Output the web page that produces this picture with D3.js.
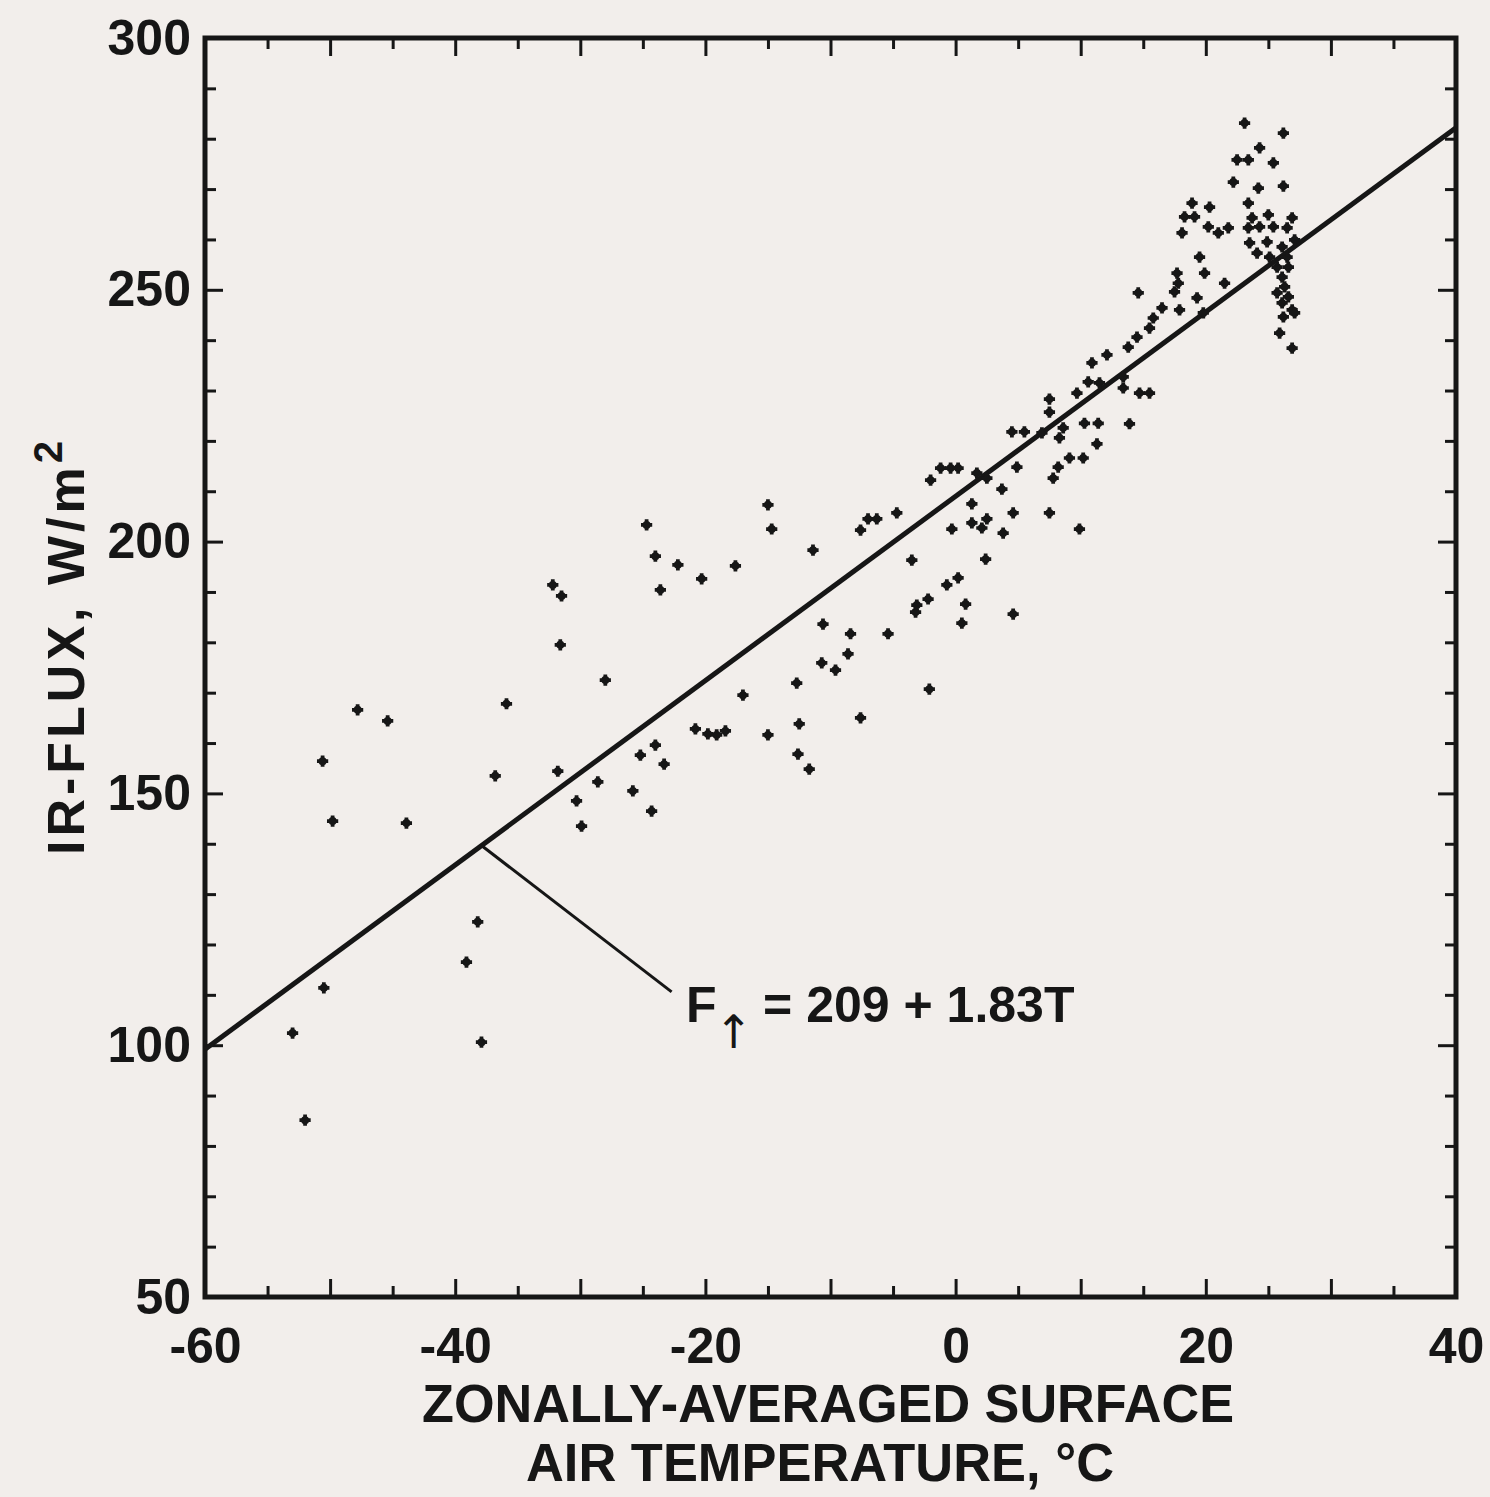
<!DOCTYPE html>
<html>
<head>
<meta charset="utf-8">
<script src="https://cdn.jsdelivr.net/npm/d3@7"></script>
<style>
  html, body { margin: 0; padding: 0; background: #f2eeeb; }
  svg { display: block; }
</style>
</head>
<body>
<div id="chart"></div>
<script>
// zonally-averaged surface air temperature (C) and IR flux (W/m2)
const tempC = [
  -32.2, -31.5, -31.6, -47.8, -45.4, -35.9, -50.6, -36.8, -31.8, -30.3,
  -29.9, -28.6, -49.8, -43.9, -38.2, -39.1, -50.5, -53.0, -37.9, -52.0,
  -25.8, -24.3, -25.2, -24.0, -23.3,
  -15.0, -24.7, -14.7, -7.0, -6.3, -4.7, -7.6, -11.4, -24.0, -22.2,
  -17.6, -20.3, -23.6, -28.0, -20.8, -19.8, -19.1, -18.4, -17.0, -15.0,
  -12.7, -12.5, -12.6, -11.7, -10.6, -8.4, -8.6, -10.7, -9.6, -7.6, -5.4,
  14.5, 13.8, 12.1, 10.9, 13.4, 10.6, 11.5, 13.4, 14.7, 15.5,
  7.5, 9.7, 10.3, 11.4, 13.9, 8.6, 8.3, 11.3, 7.5, 4.5,
  5.5, 6.9, 9.1, 10.2, 4.9, 8.2, 7.8, -1.2, -0.4, 0.2,
  1.7, 2.5, -2.0, 3.7, 1.3, 4.6, 7.5, 9.9, -0.3, 1.3,
  2.1, 2.5, 3.8, -3.5, 2.4, -0.7, 0.2, -2.2, 0.8, -3.2,
  -3.1, 4.6, 0.5, -2.1,
  23.1, 26.2, 24.3, 22.5, 23.4, 25.4, 22.2, 24.2, 26.2, 18.9,
  20.3, 23.4, 18.3, 19.1, 20.2, 21.8, 21.0, 18.1,
  23.7, 25.0, 26.9, 23.4, 24.3, 25.4, 26.5, 23.5, 24.9, 26.1,
  27.1, 24.1, 26.5, 25.1,
  25.7, 26.6, 26.1, 26.3, 25.7, 26.6, 26.1, 26.9, 26.2, 27.1, 25.9, 26.9,
  19.5, 19.9, 17.7, 17.8, 17.5, 19.3, 14.6, 16.5, 15.8, 17.9, 15.5, 19.8, 21.5
];
const irFlux = [
  191.4, 189.2, 179.5, 166.6, 164.4, 167.8, 156.4, 153.5, 154.4, 148.5,
  143.5, 152.3, 144.5, 144.1, 124.5, 116.5, 111.4, 102.4, 100.6, 85.1,
  150.5, 146.5, 157.6, 159.6, 155.8,
  207.3, 203.3, 202.5, 204.5, 204.5, 205.7, 202.3, 198.3, 197.1, 195.4,
  195.2, 192.6, 190.4, 172.5, 162.8, 161.8, 161.6, 162.4, 169.5, 161.6,
  171.9, 163.8, 157.8, 154.8, 183.6, 181.7, 177.7, 175.9, 174.5, 165.0, 181.7,
  240.6, 238.6, 237.1, 235.5, 232.7, 231.7, 231.5, 230.5, 229.5, 229.5,
  228.3, 229.5, 223.5, 223.5, 223.4, 222.6, 220.6, 219.4, 225.7, 221.8,
  221.8, 221.6, 216.6, 216.6, 214.8, 214.8, 212.6, 214.6, 214.6, 214.6,
  213.6, 212.6, 212.2, 210.4, 207.5, 205.7, 205.7, 202.5, 202.5, 203.7,
  202.7, 204.5, 201.7, 196.3, 196.5, 191.4, 192.8, 188.6, 187.6, 186.0,
  187.4, 185.6, 183.8, 170.7,
  283.1, 281.1, 278.2, 275.8, 275.8, 275.2, 271.4, 270.2, 270.6, 267.2,
  266.4, 267.2, 264.5, 264.5, 262.5, 262.3, 261.3, 261.3,
  264.3, 264.9, 264.3, 262.3, 262.5, 262.5, 262.3, 259.3, 259.5, 258.5,
  259.9, 257.3, 256.5, 256.5,
  254.5, 254.5, 252.5, 250.6, 249.4, 248.6, 247.4, 246.0, 244.6, 245.4, 241.4, 238.4,
  256.5, 253.3, 253.3, 251.3, 249.6, 248.4, 249.4, 246.4, 244.4, 246.0, 242.4, 245.4, 251.3
];

// fitted line  F = 209 + 1.83 T
const fitIntercept = 209;
const fitSlope = 1.83;

const xTickLabels = [-60, -40, -20, 0, 20, 40];
const yTickLabels = [50, 100, 150, 200, 250, 300];
const xDomain = [-60, 40];
const yDomain = [50, 300];

const W = 1490, H = 1497;
const ink = "#161616";

const svg = d3.select("#chart").append("svg")
    .attr("width", W)
    .attr("height", H)
    .style("background", "#f2eeeb");

const x = d3.scaleLinear().domain(xDomain).range([205, 1456]);
const y = d3.scaleLinear().domain(yDomain).range([1297, 38]);

const minorX = d3.range(xDomain[0] + 5, xDomain[1], 5).filter(v => v % 10 !== 0);
const majorX = d3.range(xDomain[0] + 10, xDomain[1], 10);
const minorY = d3.range(yDomain[0] + 10, yDomain[1], 10).filter(v => v % 50 !== 0);
const majorY = d3.range(yDomain[0] + 50, yDomain[1], 50);

function ticks(axis, pos, values, len){
    const g = svg.append("g")
        .attr("transform", pos)
        .call(axis.tickValues(values).tickSize(-len).tickFormat(""));
    g.select(".domain").remove();
    g.selectAll("line").attr("stroke", ink).attr("stroke-width", 3);
}

//ticks, pointing inwards on all four sides
ticks(d3.axisBottom(x), `translate(0,${y.range()[0]})`, minorX, 11);
ticks(d3.axisBottom(x), `translate(0,${y.range()[0]})`, majorX, 18);
ticks(d3.axisTop(x), `translate(0,${y.range()[1]})`, minorX, 11);
ticks(d3.axisTop(x), `translate(0,${y.range()[1]})`, majorX, 18);
ticks(d3.axisLeft(y), `translate(${x.range()[0]},0)`, minorY, 11);
ticks(d3.axisLeft(y), `translate(${x.range()[0]},0)`, majorY, 18);
ticks(d3.axisRight(y), `translate(${x.range()[1]},0)`, minorY, 11);
ticks(d3.axisRight(y), `translate(${x.range()[1]},0)`, majorY, 18);

//frame
svg.append("rect")
    .attr("x", x.range()[0])
    .attr("y", y.range()[1])
    .attr("width", x.range()[1] - x.range()[0])
    .attr("height", y.range()[0] - y.range()[1])
    .attr("fill", "none")
    .attr("stroke", ink)
    .attr("stroke-width", 5);

//tick labels (plain hyphen as minus, like the original)
const labelFont = "'Liberation Sans', Arial, sans-serif";
const xLab = svg.append("g")
    .attr("transform", `translate(0,${y.range()[0]})`)
    .call(d3.axisBottom(x).tickValues(xTickLabels).tickSize(0).tickPadding(30).tickFormat(d => String(d)));
xLab.select(".domain").remove();
xLab.selectAll("text")
    .attr("font-family", labelFont).attr("font-weight", "bold")
    .attr("font-size", 50).attr("fill", ink);

const yLab = svg.append("g")
    .attr("transform", `translate(${x.range()[0]},0)`)
    .call(d3.axisLeft(y).tickValues(yTickLabels).tickSize(0).tickPadding(14).tickFormat(d => String(d)));
yLab.select(".domain").remove();
yLab.selectAll("text")
    .attr("font-family", labelFont).attr("font-weight", "bold")
    .attr("font-size", 50).attr("fill", ink);

//regression line
svg.append("line")
    .attr("x1", x(xDomain[0])).attr("y1", y(fitIntercept + fitSlope * xDomain[0]))
    .attr("x2", x(xDomain[1])).attr("y2", y(fitIntercept + fitSlope * xDomain[1]))
    .attr("stroke", ink)
    .attr("stroke-width", 5);

//leader to the equation
const leaderT = -37.9;
const leaderEnd = [-22.7, 110.6];
svg.append("line")
    .attr("x1", x(leaderT)).attr("y1", y(fitIntercept + fitSlope * leaderT))
    .attr("x2", x(leaderEnd[0])).attr("y2", y(leaderEnd[1]))
    .attr("stroke", ink)
    .attr("stroke-width", 3);

const eq = svg.append("text")
    .attr("x", 686).attr("y", 1022)
    .attr("font-family", labelFont).attr("font-weight", "bold")
    .attr("font-size", 50).attr("fill", ink);
eq.append("tspan").text("F");
eq.append("tspan").attr("font-size", 46).attr("font-weight", "normal")
    .attr("font-family", "'DejaVu Sans', sans-serif")
    .attr("dx", -2).attr("dy", 26).text("\u2191");
eq.append("tspan").attr("dx", 10).attr("dy", -26).text("= 209 + 1.83T");

//points
const pts = tempC.map((t, i) => ({t: t, f: irFlux[i]}));
const g = svg.append("g");
g.selectAll("circle")
    .data(pts)
    .enter()
    .append("circle")
    .attr("cx", d => x(d.t))
    .attr("cy", d => y(d.f))
    .attr("r", 4)
    .attr("fill", ink);
g.selectAll("path")
    .data(pts)
    .enter()
    .append("path")
    .attr("transform", d => `translate(${x(d.t)},${y(d.f)})`)
    .attr("d", d3.symbol(d3.symbolCross).size(70))
    .attr("fill", ink);

//axis titles
svg.append("text")
    .attr("transform", "translate(84,855) rotate(-90)")
    .attr("font-family", labelFont).attr("font-weight", "bold")
    .attr("font-size", 52).attr("letter-spacing", 4).attr("fill", ink)
    .call(t => {
        t.append("tspan").text("IR-FLUX, W/m");
        t.append("tspan").attr("font-size", 40).attr("dy", -22).text("2");
    });

svg.append("text")
    .attr("x", 828).attr("y", 1422)
    .attr("text-anchor", "middle")
    .attr("font-family", "'Liberation Sans Narrow', " + labelFont)
    .attr("font-weight", "bold")
    .attr("font-size", 54).attr("fill", ink)
    .attr("textLength", 812).attr("lengthAdjust", "spacingAndGlyphs")
    .text("ZONALLY-AVERAGED SURFACE");

svg.append("text")
    .attr("x", 820).attr("y", 1481)
    .attr("text-anchor", "middle")
    .attr("font-family", "'Liberation Sans Narrow', " + labelFont)
    .attr("font-weight", "bold")
    .attr("font-size", 54).attr("fill", ink)
    .attr("textLength", 588).attr("lengthAdjust", "spacingAndGlyphs")
    .text("AIR TEMPERATURE, \u00B0C");
</script>
</body>
</html>
